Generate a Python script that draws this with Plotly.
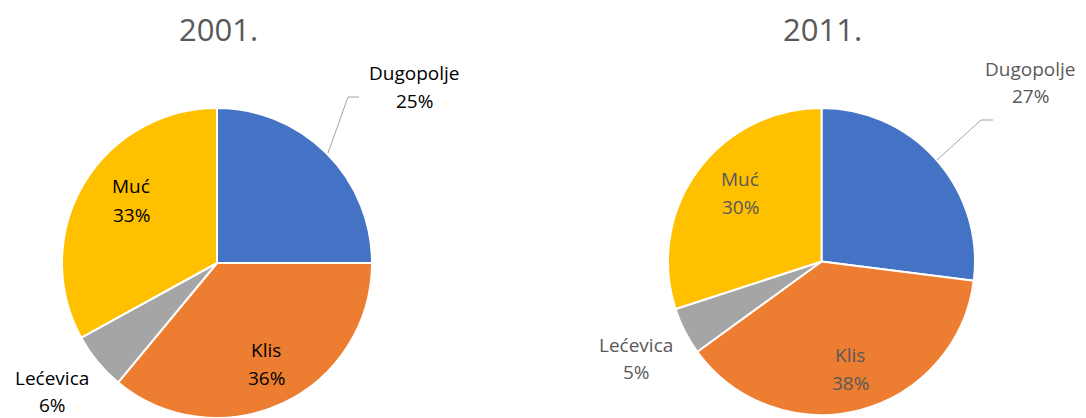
import plotly.graph_objects as go

# page body has an 8px margin, so the figure is 8px smaller on each axis
OFF = 8
W, H = 1086 - OFF, 418 - OFF

categories = ["Dugopolje", "Klis", "Lećevica", "Muć"]
values_2001 = [25, 36, 6, 33]
values_2011 = [27, 38, 5, 30]
titles = ["2001.", "2011."]
colors = ["#4472C4", "#ED7D31", "#A5A5A5", "#FFC000"]

def px(x):
    return (x - OFF) / W

def py(y):
    return 1 - (y - OFF) / H

fig = go.Figure()

domains = [
    dict(x=[px(62), px(372)], y=[max(0, py(418)), py(108)]),
    dict(x=[px(668), px(975)], y=[py(415), py(108)]),
]

for vals, dom in zip([values_2001, values_2011], domains):
    fig.add_trace(go.Pie(
        labels=categories, values=vals, sort=False, direction="clockwise",
        rotation=0, textinfo="none", hoverinfo="label+percent",
        marker=dict(colors=colors, line=dict(color="white", width=2)),
        domain=dom, showlegend=False,
    ))

# label placement (pixel centres of name line and percent line) per pie
label_pos = [
    {"Dugopolje": (414, 73, 101), "Klis": (266, 350, 378),
     "Lećevica": (52, 378, 404.5), "Muć": (131, 186, 215)},
    {"Dugopolje": (1030, 69, 96), "Klis": (850, 355, 383),
     "Lećevica": (636, 345, 372), "Muć": (740, 179, 207)},
]
label_colors = ["#000000", "#595959"]
title_x = [218, 822]

annotations = []
for i, vals in enumerate([values_2001, values_2011]):
    total = sum(vals)
    annotations.append(dict(
        x=px(title_x[i]), y=py(29), xref="paper", yref="paper",
        text=titles[i], showarrow=False, xanchor="center", yanchor="middle",
        font=dict(family="Open Sans", size=31, color="#595959")))
    for cat, v in zip(categories, vals):
        x, y1, y2 = label_pos[i][cat]
        pct = f"{round(100 * v / total)}%"
        for t, yy in ((cat, y1), (pct, y2)):
            annotations.append(dict(
                x=px(x), y=py(yy), xref="paper", yref="paper", text=t,
                showarrow=False, xanchor="center", yanchor="middle",
                font=dict(family="Open Sans", size=19, color=label_colors[i])))

leaders = [
    [(328, 153), (348, 97), (359, 97)],
    [(937, 160), (981, 120), (993, 120)],
]
shapes = []
for pts in leaders:
    path = "M " + " L ".join(f"{px(a)},{py(b)}" for a, b in pts)
    shapes.append(dict(type="path", xref="paper", yref="paper", path=path,
                       line=dict(color="#A5A5A5", width=1)))

fig.update_layout(
    width=W, height=H, margin=dict(l=0, r=0, t=0, b=0),
    paper_bgcolor="white", plot_bgcolor="white",
    annotations=annotations, shapes=shapes,
)

fig.write_html("out.html")
